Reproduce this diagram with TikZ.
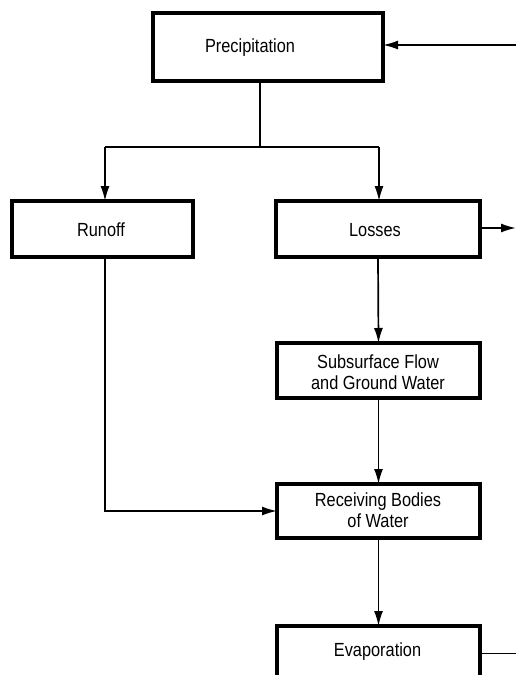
\documentclass[tikz,border=0pt]{standalone}
\usepackage{fontspec}
\setmainfont{Liberation Sans}[FakeStretch=0.86]
\usetikzlibrary{arrows.meta}
\begin{document}
\begin{tikzpicture}[x=1pt,y=-1pt,
  box/.style={draw,line width=3.4pt,inner sep=0pt,outer sep=0pt},
  lbl/.style={inner sep=0pt,align=center,font=\fontsize{19}{21}\selectfont},
  conn/.style={line width=1.7pt},
  arr/.style={conn,-{Latex[length=15pt,width=9pt]}}]
\clip (0,0) rectangle (516,675);
\fill[white] (0,0) rectangle (516,675);
% boxes
\node[box,minimum width=230pt,minimum height=68pt] (prec) at (268,47) {};
\node[box,minimum width=181pt,minimum height=56pt] (runoff) at (102.5,229) {};
\node[box,minimum width=204pt,minimum height=56pt] (losses) at (378,229) {};
\node[box,minimum width=203pt,minimum height=55pt] (sub) at (378.5,370.5) {};
\node[box,minimum width=203pt,minimum height=54pt] (recv) at (378.5,511) {};
\node[box,minimum width=203pt,minimum height=56pt] (evap) at (378.5,654) {};
% labels
\node[lbl] (precT) at (250,48) {Precipitation};
\node[lbl] (runoffT) at (101,230) {Runoff};
\node[lbl] (lossesT) at (375,230) {Losses};
\node[lbl] (subT) at (378,372.5) {Subsurface Flow\\and Ground Water};
\node[lbl] (recvT) at (378,510.5) {Receiving Bodies\\of Water};
\node[lbl] (evapT) at (377.5,652) {Evaporation};
% coordinates
\coordinate (inR) at (516,45);
\coordinate (split) at (260,147);
\coordinate (splitL) at (105,147);
\coordinate (splitR) at (379,147);
\coordinate (outL) at (516,228);
\coordinate (outE) at (516,653);
\coordinate (runDown) at (105,257);
% connectors
\draw[arr] (inR) -- (inR -| prec.east);
\draw[conn] (split |- prec.south) -- (split);
\draw[conn] (splitL) -- (splitR);
\draw[arr] (splitL) -- (splitL |- runoff.north);
\draw[arr] (splitR) -- (splitR |- losses.north);
\draw[arr] (losses.east |- outL) -- (outL);
\draw[arr] (losses.south) -- (sub.north);
\draw[arr] (sub.south) -- (recv.north);
\draw[arr] (runDown) |- (recv.west);
\draw[arr] (recv.south) -- (evap.north);
\draw[line width=1pt] (evap.east |- outE) -- (outE);
\end{tikzpicture}
\end{document}
